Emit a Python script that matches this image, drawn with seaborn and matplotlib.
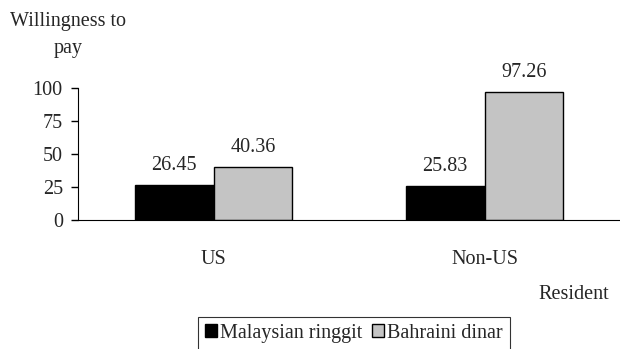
import matplotlib
matplotlib.use("Agg")
import matplotlib.pyplot as plt
import seaborn as sns
import pandas as pd

residents = ["US", "Non-US"]
currencies = ["Malaysian ringgit", "Bahraini dinar"]
malaysian = [26.45, 25.83]
bahraini = [40.36, 97.26]

df = pd.DataFrame({
    "Resident": residents * 2,
    "Currency": [currencies[0]] * 2 + [currencies[1]] * 2,
    "WTP": malaysian + bahraini,
})

sns.set_style("white")
plt.rcParams['font.family'] = ['Liberation Serif', 'DejaVu Serif']
fs = 14.5
plt.rcParams['font.size'] = fs

fig = plt.figure(figsize=(6.2, 3.49), dpi=100)
ax = fig.add_axes([0.126, 0.370, 0.874, 0.378])

pal = {"Malaysian ringgit": "black", "Bahraini dinar": "#c4c4c4"}
sns.barplot(data=df, x="Resident", y="WTP", hue="Currency", order=residents,
            hue_order=currencies, palette=pal, width=0.58, ax=ax,
            edgecolor="black", linewidth=1, saturation=1, legend=False)

for c in ax.containers:
    ax.bar_label(c, fmt="%.2f", padding=7, fontsize=fs)

ax.set_xlim(-0.5, 1.5)
ax.set_ylim(0, 100)
ax.set_yticks([0, 25, 50, 75, 100])
ax.set_xlabel("")
ax.set_ylabel("")
for s in ["top", "right"]:
    ax.spines[s].set_visible(False)
ax.spines["left"].set_color("black")
ax.spines["bottom"].set_color("black")
ax.tick_params(axis="y", left=True, length=5, width=1, color="black", labelsize=fs, pad=6)
ax.tick_params(axis="x", bottom=False, labelsize=fs, pad=18)

fig.text(0.11, 0.90, "Willingness to\npay", ha="center", va="center",
         fontsize=fs, linespacing=1.6)
fig.text(0.925, 0.155, "Resident", ha="center", va="center", fontsize=fs)

handles = [plt.Rectangle((0, 0), 1, 1, facecolor=pal[c], edgecolor="black", linewidth=1)
           for c in currencies]
leg = fig.legend(handles, currencies, loc="upper center", bbox_to_anchor=(0.571, 0.092),
                 ncol=2, frameon=True, fancybox=False, fontsize=fs,
                 handlelength=0.6, handleheight=0.6, handletextpad=0.15,
                 columnspacing=0.5, borderpad=0.35, borderaxespad=0)
leg.get_frame().set_edgecolor("black")
leg.get_frame().set_linewidth(0.8)

fig.savefig("out.png", dpi=100)
